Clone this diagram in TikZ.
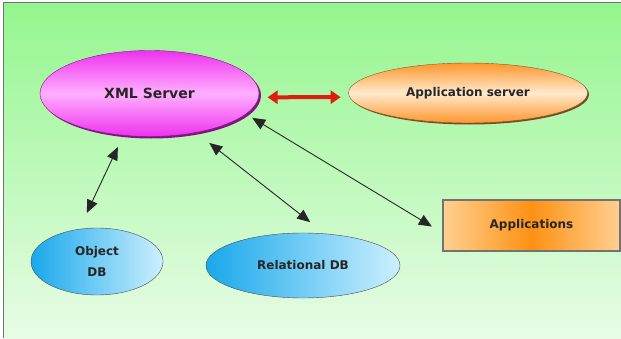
\documentclass[tikz,border=0pt]{standalone}
\usepackage{fontspec}
\setmainfont{DejaVu Sans}
\usetikzlibrary{arrows.meta,shapes.geometric,shadows}

\definecolor{bgtop}{RGB}{148,246,142}
\definecolor{bgbot}{RGB}{232,252,230}
\definecolor{xmlpink}{RGB}{238,50,238}
\definecolor{xmllight}{RGB}{255,175,255}
\definecolor{xmledge}{RGB}{130,20,130}
\definecolor{orangedark}{RGB}{255,150,45}
\definecolor{orangelight}{RGB}{255,234,205}
\definecolor{dbblue}{RGB}{25,168,235}
\definecolor{dblight}{RGB}{205,240,255}
\definecolor{appsmid}{RGB}{255,145,20}
\definecolor{appsside}{RGB}{255,208,145}

\begin{document}
\begin{tikzpicture}[x=1pt,y=1pt,
    label/.style={font=\bfseries\fontsize{12}{21}\selectfont, text=black!85,
      inner sep=0pt, outer sep=0pt, align=center},
    oval/.style={label, ellipse, draw},
    conn/.style={draw=black!85, line width=0.9pt,
      {Triangle[length=13pt,width=11pt]}-{Triangle[length=13pt,width=11pt]}},
    redarrow/.style={draw={rgb,255:red,222;green,28;blue,20}, line width=4pt,
      {Triangle[length=10pt,width=13pt]}-{Triangle[length=10pt,width=13pt]}}]

  \useasboundingbox (0,0) rectangle (621,338);
  \fill[white] (0,0) rectangle (621,338);
  \shade[top color=bgtop, bottom color=bgbot] (3.5,0) rectangle (621,335.5);
  \draw[black!55, line width=1.2pt] (3.5,0) -- (3.5,335.5) -- (621,335.5);

  % servers
  \node[oval, draw=xmledge, minimum width=219, minimum height=86,
    top color=xmlpink, bottom color=xmlpink, middle color=xmllight,
    drop shadow={shadow xshift=2pt, shadow yshift=-2pt, fill=xmledge, opacity=1},
    font=\bfseries\fontsize{14}{16}\selectfont] (xml) at (149.5,244.5) {XML Server};
  \node[oval, draw=brown!70!black, minimum width=239, minimum height=60,
    top color=orangedark, bottom color=orangedark, middle color=orangelight,
    drop shadow={shadow xshift=1.5pt, shadow yshift=-1.5pt, fill=brown!60!black, opacity=1}]
    (appsrv) at (468,245) {Application server};

  % databases and applications
  \node[oval, draw=black!70, minimum width=132, minimum height=67,
    left color=dbblue, right color=dblight] (objdb) at (97,76.5) {Object\\DB};
  \node[oval, draw=black!70, minimum width=194, minimum height=65,
    left color=dbblue, right color=dblight] (reldb) at (303,72.5) {Relational DB};
  \node[label, rectangle, draw=black!55, line width=1.2pt, minimum width=177, minimum height=51,
    left color=appsside, right color=appsside, middle color=appsmid]
    (apps) at (531.5,112.5) {Applications};

  % connections
  \draw[redarrow, shorten <=9pt, shorten >=9pt] (xml.358) -- (appsrv.182);
  \draw[conn, shorten <=13pt, shorten >=18pt] (xml.238) -- (objdb.119);
  \draw[conn, shorten <=17pt, shorten >=19pt] (xml.320) -- (reldb.55);
  \draw[conn, shorten <=7.5pt, shorten >=13pt] (xml.348) -- (apps.185);
\end{tikzpicture}
\end{document}
